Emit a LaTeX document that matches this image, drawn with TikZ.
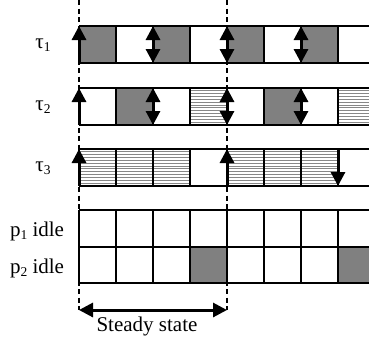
\documentclass[tikz,border=0pt]{standalone}
\usepackage{fontspec}
\setmainfont{Liberation Serif}
\usetikzlibrary{arrows.meta}
\definecolor{cellgray}{RGB}{128,128,128}
\definecolor{hatchgray}{RGB}{135,135,135}
\newcommand\lowsub[1]{\raisebox{-0.35ex}{\fontsize{13.5}{14}\selectfont #1}}
\begin{document}
\begin{tikzpicture}[x=1pt,y=-1pt,
  gridline/.style={draw=black,line width=2.8pt},
  grayfill/.style={fill=cellgray},
  hatchline/.style={draw=hatchgray,line width=1pt},
  dashline/.style={draw=black,line width=2.4pt,dash pattern=on 5pt off 3.5pt},
  uparr/.style={line width=3pt,-{Triangle[width=14pt,length=14pt]}},
  dblarr/.style={line width=3pt,{Triangle[width=14pt,length=14pt]}-{Triangle[width=14pt,length=14pt]}},
  lbl/.style={font=\fontsize{21}{25}\selectfont,inner sep=0pt}
]
\useasboundingbox (0,0) rectangle (369,341);
\clip (0,0) rectangle (369,341);

% dashed steady-state markers
\draw[dashline] (79,0) -- (79,310);
\draw[dashline] (227,0) -- (227,310);

% gray cells
\foreach \c/\t in {0/26,2/26,4/26,6/26,1/88,5/88,3/247,7/247}{
  \fill[grayfill] ({79+37*\c},\t) rectangle ({116+37*\c},{\t+37});
}
% hatched cells
\foreach \c/\t in {3/88,7/88,0/149,1/149,2/149,4/149,5/149,6/149}{
  \foreach \k in {1,...,12}{
    \draw[hatchline] ({79+37*\c},{\t+\k*37/13}) -- ({116+37*\c},{\t+\k*37/13});
  }
}

% rows
\foreach \t in {26,88,149}{
  \draw[gridline] (79,\t) -- (380,\t);
  \draw[gridline] (79,\t+37) -- (380,\t+37);
  \foreach \c in {0,...,8}{
    \draw[gridline] ({79+37*\c},\t) -- ({79+37*\c},{\t+37});
  }
}
% idle grid
\draw[gridline] (79,210) -- (380,210);
\draw[gridline] (79,247) -- (380,247);
\draw[gridline] (79,283) -- (380,283);
\foreach \c in {0,...,8}{
  \draw[gridline] ({79+37*\c},210) -- ({79+37*\c},283);
}

% arrows tau1
\draw[uparr] (79,63) -- (79,26);
\foreach \x in {153,227,301}{ \draw[dblarr] (\x,26) -- (\x,63); }
% arrows tau2
\draw[uparr] (79,125) -- (79,88);
\foreach \x in {153,227,301}{ \draw[dblarr] (\x,88) -- (\x,125); }
% arrows tau3
\draw[uparr] (79,186) -- (79,149);
\draw[uparr] (227,186) -- (227,149);
\draw[uparr] (338,149) -- (338,186);

% steady state
\draw[dblarr] (79,310) -- (227,310);
\node[lbl] (steady) at (147,326) {Steady state};

% labels
\node[lbl] (t1) at (43,45) {τ\lowsub{1}};
\node[lbl] (t2) at (43,107) {τ\lowsub{2}};
\node[lbl] (t3) at (43,168) {τ\lowsub{3}};
\node[lbl] (p1) at (37,231) {p\lowsub{1} idle};
\node[lbl] (p2) at (37,268) {p\lowsub{2} idle};
\end{tikzpicture}
\end{document}
